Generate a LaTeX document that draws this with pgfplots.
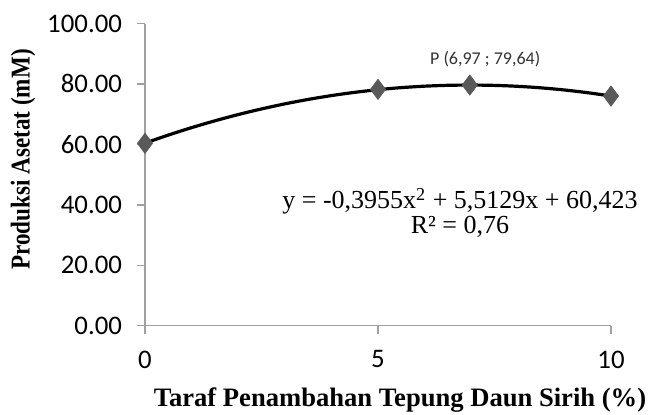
\documentclass[border=0pt]{standalone}
\usepackage{fontspec}
\setmainfont{Liberation Serif}
\newfontfamily\carlito{Carlito}
\usepackage{pgfplots}
\pgfplotsset{compat=1.18}
\definecolor{axgray}{RGB}{160,160,160}
\definecolor{mk}{RGB}{89,89,89}
\begin{document}
\begin{tikzpicture}
\begin{axis}[
  scale only axis,
  width=233pt, height=151.1pt,
  xmin=0, xmax=10, ymin=0, ymax=100,
  axis x line*=bottom, axis y line*=left,
  axis line style={axgray, line width=0.7pt, -},
  xtick={0,5,10}, ytick={0,20,40,60,80,100},
  tick style={axgray, line width=0.7pt},
  tick align=outside, major tick length=4pt,
  /pgf/number format/assume math mode=true,
  tick label style={font=\carlito\fontsize{13.4}{15}\selectfont, black},
  yticklabel style={/pgf/number format/fixed, /pgf/number format/fixed zerofill, /pgf/number format/precision=2, xshift=-4pt},
  xticklabel style={yshift=-5pt},
  xlabel={\bfseries Taraf Penambahan Tepung Daun Sirih (\%)},
  ylabel={\bfseries Produksi Asetat (mM)},
  xlabel style={font=\fontsize{13.3}{15}\selectfont, xshift=11pt, yshift=-3pt},
  ylabel style={font=\fontsize{13.6}{15}\selectfont, at={(ticklabel cs:0.55)}, xscale=0.85, yshift=-1pt},
  clip=false,
]
\addplot[black, line width=1.6pt, smooth] coordinates {
(0,60.423)(0.5,63.081)(1,65.540)(1.5,67.803)(2,69.867)(2.5,71.733)(3,73.402)(3.5,74.873)(4,76.147)(4.5,77.222)(5,78.100)(5.5,78.780)(6,79.262)(6.5,79.547)(7,79.634)(7.5,79.523)(8,79.214)(8.5,78.708)(9,78.004)(9.5,77.102)(10,76.002)};
\addplot[only marks, mark=diamond*, mark size=5pt, mark options={fill=mk, draw=mk}] coordinates {(0,60.35)(5,78.2)(6.97,79.64)(10,76.0)};
\node[font=\carlito\fontsize{9}{10}\selectfont, text=black!80] at (axis cs:7.3,88.3) {P (6,97 ; 79,64)};
\node[font=\fontsize{13}{12.5}\selectfont, align=center] at (axis cs:6.76,37.3) {y = -0,3955x\textsuperscript{2} + 5,5129x + 60,423\\ R² = 0,76};
\end{axis}
\pgfresetboundingbox
\path[use as bounding box] (-72.5pt,-44.15pt) rectangle (253.5pt,162.85pt);
\end{tikzpicture}
\end{document}
